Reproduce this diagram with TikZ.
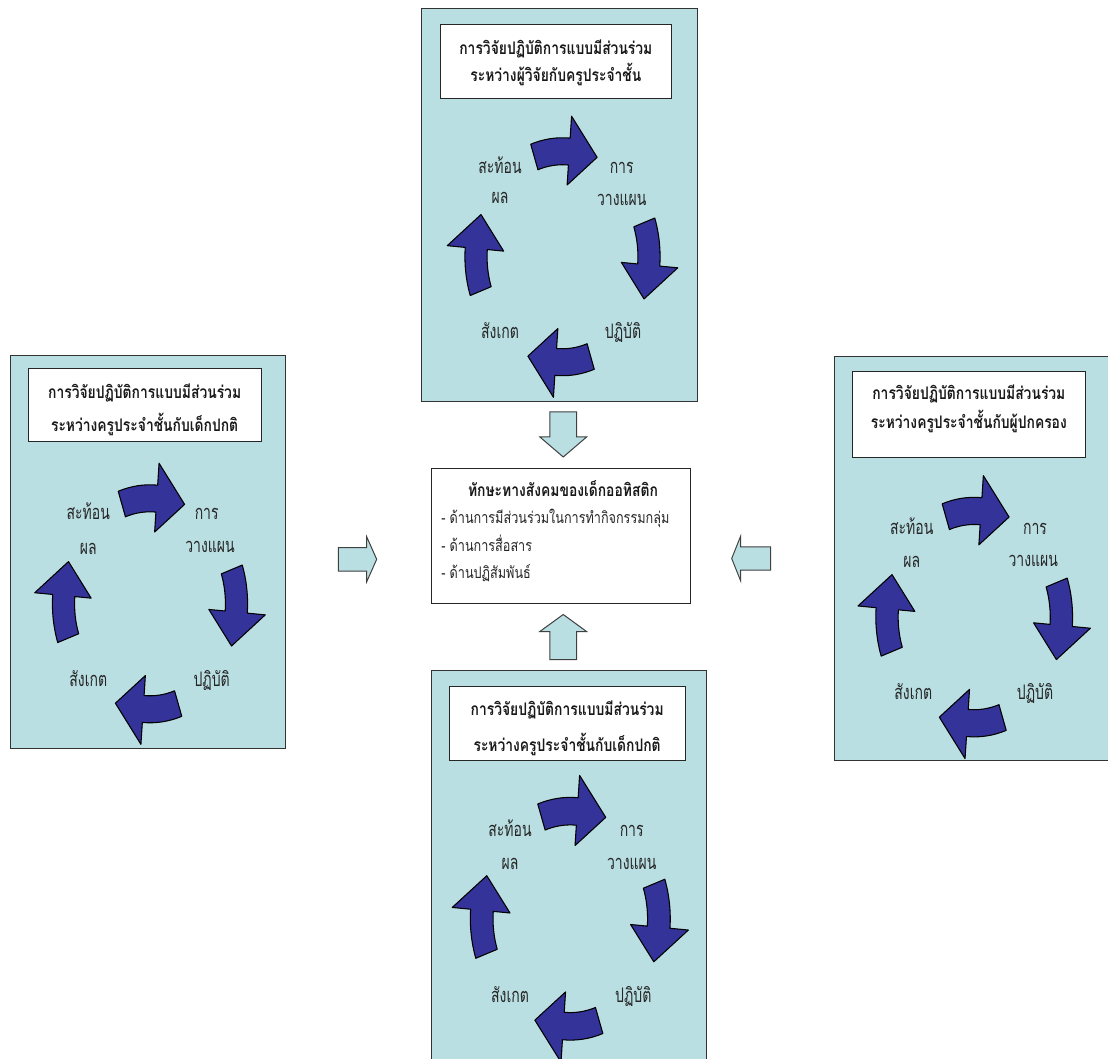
\documentclass[tikz,border=0pt]{standalone}
\usepackage{fontspec}
\newfontfamily\thaiT[Script=Thai,FakeStretch=0.8]{Loma}
\newfontfamily\thaiL[Script=Thai,FakeStretch=0.7]{Loma}
\newfontfamily\thaiB[Script=Thai,FakeStretch=0.79]{Loma}
\usetikzlibrary{calc}
\definecolor{panelblue}{RGB}{185,223,227}
\definecolor{arrowblue}{RGB}{51,51,153}
\newcommand\thaititle{\thaiT\bfseries\fontsize{13}{16}\selectfont}
\newcommand\thailabel{\thaiL\fontsize{15}{18}\selectfont}
\newcommand\thaibody{\thaiB\fontsize{12}{16}\selectfont}
\newcommand\cyclearrows[4]{%
\begin{scope}[shift={(#1,#2)}, x=#3, y=#4]
\foreach \t in {90,0,-90,180}{
\draw[cyclearrow] (\t+19:119) arc[start angle=\t+19, end angle=\t-4.5, radius=119]
  -- (\t-4.5:141) -- (\t-23:108) -- (\t-4.5:72) -- (\t-4.5:92)
  arc[start angle=\t-4.5, end angle=\t+19, radius=92] -- cycle;}
\end{scope}}
\newcommand\blockarrow[6]{%
\draw[hollow, shift={(#1)}, rotate=#2] (0,-#4) -- ({#3-#6},-#4) -- ({#3-#6},-#5) -- (#3,0)
  -- ({#3-#6},#5) -- ({#3-#6},#4) -- (0,#4) -- cycle;}
\begin{document}
\begin{tikzpicture}[x=0.75pt,y=-0.75pt,
  panel/.style={draw=black!80, fill=panelblue, line width=0.75pt, inner sep=0},
  titlebox/.style={draw=black!85, fill=white, line width=0.75pt, inner sep=0},
  titleline/.style={font=\thaititle, inner sep=0, anchor=base, text=black!90},
  bodyline/.style={font=\thaibody, inner sep=0, anchor=base west, text=black!85},
  cyclearrow/.style={fill=arrowblue, draw=black, line width=0.8pt, line join=round},
  lbl/.style={font=\thailabel, inner sep=0, anchor=base, text=black!85},
  hollow/.style={draw=black!75, fill=panelblue, line width=0.75pt}]
\fill[white, use as bounding box] (0,0) rectangle (1108,1059);
\clip (0,0) rectangle (1108,1059);
% panels
\node[panel, minimum width=275.5*0.75pt, minimum height=393*0.75pt] (ptop) at (559.25,205) {};
\node[panel, minimum width=275*0.75pt, minimum height=392.3*0.75pt] (pleft) at (147.5,552.15) {};
\node[panel, minimum width=275*0.75pt, minimum height=403.5*0.75pt] (pright) at (971.5,558.25) {};
\node[panel, minimum width=275*0.75pt, minimum height=405*0.75pt] (pbottom) at (569.2,872.5) {};
% title boxes
\node[titlebox, minimum width=231.7*0.75pt, minimum height=73.3*0.75pt] (ttop) at (555.85,61.65) {};
\node[titleline] (ttop1) at (555.85,55) {การวิจัยปฏิบัติการแบบมีส่วนร่วม};
\node[titleline] (ttop2) at (555.85,81.7) {ระหว่างผู้วิจัยกับครูประจำชั้น};
\node[titlebox, minimum width=232.7*0.75pt, minimum height=73.4*0.75pt] (tleft) at (144.65,405) {};
\node[titleline] (tleft1) at (144.65,398.3) {การวิจัยปฏิบัติการแบบมีส่วนร่วม};
\node[titleline] (tleft2) at (144.65,431.7) {ระหว่างครูประจำชั้นกับเด็กปกติ};
\node[titlebox, minimum width=232.3*0.75pt, minimum height=85.6*0.75pt] (tright) at (968.85,414.5) {};
\node[titleline] (tright1) at (968.85,400) {การวิจัยปฏิบัติการแบบมีส่วนร่วม};
\node[titleline] (tright2) at (968.85,428.3) {ระหว่างครูประจำชั้นกับผู้ปกครอง};
\node[titlebox, minimum width=235.7*0.75pt, minimum height=74*0.75pt] (tbottom) at (567.15,723) {};
\node[titleline] (tbottom1) at (567.15,715) {การวิจัยปฏิบัติการแบบมีส่วนร่วม};
\node[titleline] (tbottom2) at (567.15,751) {ระหว่างครูประจำชั้นกับเด็กปกติ};
% centre box
\node[draw=black!85, fill=white, line width=0.75pt, minimum width=259*0.75pt, minimum height=135*0.75pt, inner sep=0] (centre) at (561.2,535.8) {};
\node[titleline] (ctitle) at (563,497) {ทักษะทางสังคมของเด็กออทิสติก};
\node[bodyline] (c1) at (441,523.3) {- ด้านการมีส่วนร่วมในการทำกิจกรรมกลุ่ม};
\node[bodyline] (c2) at (441,551.7) {- ด้านการสื่อสาร};
\node[bodyline] (c3) at (441,578.3) {- ด้านปฏิสัมพันธ์};
% cycle arrows
\cyclearrows{562.5}{256.75}{0.615pt}{0.75pt}
\cyclearrows{150}{603.8}{0.615pt}{0.75pt}
\cyclearrows{974.2}{617.1}{0.62pt}{0.755pt}
\cyclearrows{570.3}{918.75}{0.63pt}{0.765pt}
% cycle labels: top panel
\node[lbl] (ta1) at (500,174) {สะท้อน};
\node[lbl] (ta2) at (500,204) {ผล};
\node[lbl] (tb1) at (621.7,174) {การ};
\node[lbl] (tb2) at (621.7,206) {วางแผน};
\node[lbl] (tc) at (623,339) {ปฏิบัติ};
\node[lbl] (td) at (500,339) {สังเกต};
% left panel
\node[lbl] (la1) at (88.3,519.3) {สะท้อน};
\node[lbl] (la2) at (88.3,554.3) {ผล};
\node[lbl] (lb1) at (206.7,519.3) {การ};
\node[lbl] (lb2) at (210,552.7) {วางแผน};
\node[lbl] (lc) at (211.7,686) {ปฏิบัติ};
\node[lbl] (ld) at (88.3,686) {สังเกต};
% right panel
\node[lbl] (ra1) at (911.7,534.3) {สะท้อน};
\node[lbl] (ra2) at (911.7,567.7) {ผล};
\node[lbl] (rb1) at (1035,534.3) {การ};
\node[lbl] (rb2) at (1033.3,566) {วางแผน};
\node[lbl] (rc) at (1035,699.3) {ปฏิบัติ};
\node[lbl] (rd) at (913.3,699.3) {สังเกต};
% bottom panel
\node[lbl] (ba1) at (510,836) {สะท้อน};
\node[lbl] (ba2) at (510,869.3) {ผล};
\node[lbl] (bb1) at (631.7,836) {การ};
\node[lbl] (bb2) at (631.7,869.3) {วางแผน};
\node[lbl] (bc) at (633.3,1002.7) {ปฏิบัติ};
\node[lbl] (bd) at (510,1002.7) {สังเกต};
% hollow block arrows towards the centre box
\coordinate (aT) at ($(ptop.south)+(4,10)$);
\coordinate (aB) at ($(pbottom.north)+(-6,-10)$);
\coordinate (aL) at (338.3,559.3);
\coordinate (aR) at (770.5,558.5);
\blockarrow{aT}{-90}{45}{13.35}{23.35}{20}
\blockarrow{aB}{90}{45}{13.35}{23.35}{17}
\blockarrow{aL}{0}{38.4}{11.7}{22.5}{10}
\blockarrow{aR}{180}{38.8}{11.7}{22.5}{9}
\end{tikzpicture}
\end{document}
